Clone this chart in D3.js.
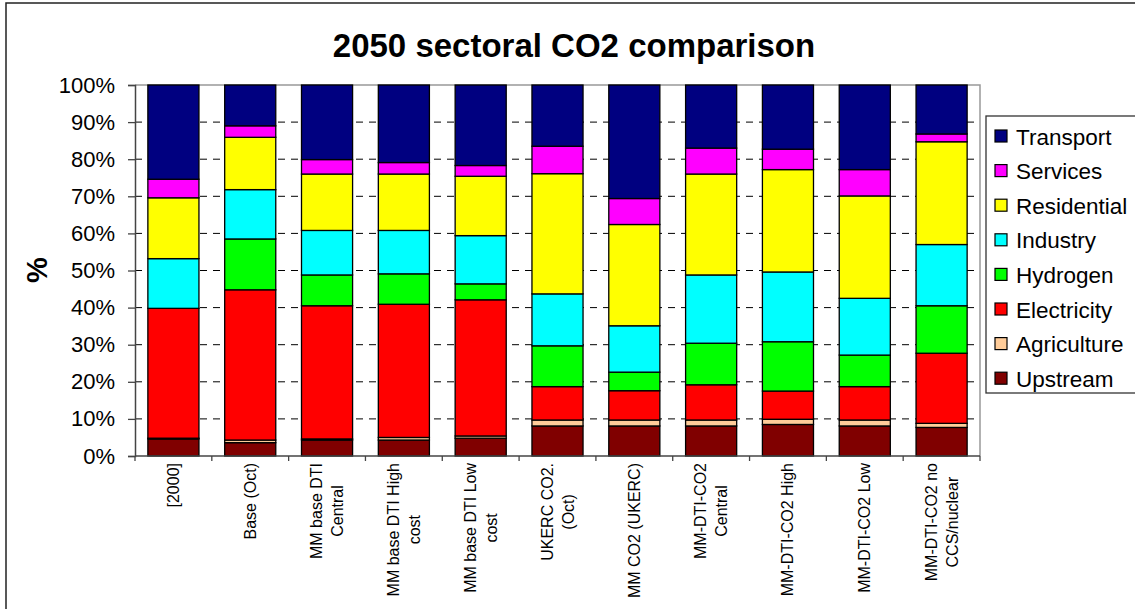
<!DOCTYPE html>
<html>
<head>
<meta charset="utf-8">
<script src="https://cdn.jsdelivr.net/npm/d3@7"></script>
<style>
  body { margin: 0; background: #fff; }
  svg { display: block; font-family: Arial, "Liberation Sans", sans-serif; }
</style>
</head>
<body>
<div id="container"></div>
<script>
/* DATA */
const categories = ["[2000]", "Base (Oct)", "MM base DTI\nCentral", "MM base DTI High\ncost",
  "MM base DTI Low\ncost", "UKERC CO2.\n(Oct)", "MM CO2 (UKERC)", "MM-DTI-CO2\nCentral",
  "MM-DTI-CO2 High", "MM-DTI-CO2 Low", "MM-DTI-CO2 no\nCCS/nuclear"]

const upstream    = [4.6, 3.6, 4.3, 4.3, 4.8, 8.1, 8.1, 8.1, 8.5, 8.1, 7.7]
const agriculture = [0.2, 0.7, 0.3, 0.7, 0.6, 1.6, 1.6, 1.6, 1.4, 1.6, 1.1]
const electricity = [35.0, 40.5, 35.9, 35.9, 36.7, 9.0, 7.9, 9.5, 7.6, 9.0, 18.9]
const hydrogen    = [0.0, 13.7, 8.3, 8.2, 4.3, 11.0, 5.0, 11.2, 13.3, 8.5, 12.8]
const industry    = [13.4, 13.3, 12.0, 11.7, 13.0, 14.0, 12.5, 18.4, 18.8, 15.3, 16.5]
const residential = [16.4, 14.1, 15.2, 15.2, 16.0, 32.4, 27.3, 27.2, 27.6, 27.6, 27.7]
const services    = [5.0, 3.1, 3.9, 3.1, 2.9, 7.4, 7.0, 7.0, 5.5, 7.1, 2.1]
const transport   = [25.4, 11.0, 20.1, 20.9, 21.7, 16.5, 30.6, 17.0, 17.3, 22.8, 13.2]

const seriesNames = ["Upstream", "Agriculture", "Electricity", "Hydrogen", "Industry", "Residential", "Services", "Transport"]
const seriesValues = [upstream, agriculture, electricity, hydrogen, industry, residential, services, transport]
const seriesColors = ["#800000", "#FFCC99", "#FF0000", "#00FF00", "#00FFFF", "#FFFF00", "#FF00FF", "#000080"]
const yTicks = [0, 10, 20, 30, 40, 50, 60, 70, 80, 90, 100]

/* LAYOUT */
const W = 1135, H = 609
const plot = {left: 135, right: 980, top: 85, bottom: 456}

const table = categories.map((c, i) => {
  const row = {category: c}
  seriesNames.forEach((s, j) => row[s] = seriesValues[j][i])
  return row
})
const stacked = d3.stack().keys(seriesNames)(table)

const svg = d3.select("#container").append("svg")
  .attr("width", W).attr("height", H)

// chart border
svg.append("rect")
  .attr("x", 6).attr("y", 3).attr("width", W + 20).attr("height", H + 20)
  .attr("fill", "#fff").attr("stroke", "#222").attr("stroke-width", 1.5)

/* SCALES */
const x = d3.scaleBand()
  .domain(categories)
  .range([plot.left, plot.right])
  .paddingInner(0.335)
  .paddingOuter(0.1675)

const y = d3.scaleLinear()
  .domain([0, 100])
  .range([plot.bottom, plot.top])

// plot area frame (top / right gray)
svg.append("path")
  .attr("d", `M${plot.left},${plot.top}H${plot.right}V${plot.bottom}`)
  .attr("fill", "none").attr("stroke", "#999").attr("stroke-width", 1.5)

// gridlines
svg.append("g").selectAll("line")
  .data(yTicks.filter(d => d > 0 && d < 100))
  .join("line")
  .attr("x1", plot.left).attr("x2", plot.right)
  .attr("y1", d => y(d)).attr("y2", d => y(d))
  .attr("stroke", "#000").attr("stroke-width", 1)
  .attr("stroke-dasharray", "7,6")

// bars
svg.append("g").selectAll("g")
  .data(stacked)
  .join("g")
  .attr("fill", (d, i) => seriesColors[i])
  .selectAll("rect")
  .data(d => d)
  .join("rect")
  .attr("x", d => x(d.data.category))
  .attr("y", d => y(d[1]))
  .attr("width", x.bandwidth())
  .attr("height", d => Math.max(0, y(d[0]) - y(d[1])))
  .attr("stroke", "#000").attr("stroke-width", 1.3)

/* AXES */
const yAxisGroup = svg.append("g")
  .attr("transform", `translate(${plot.left},0)`)
  .call(d3.axisLeft(y).tickValues(yTicks).tickSize(7).tickPadding(13).tickFormat(d => d + "%"))
yAxisGroup.select(".domain").attr("stroke", "#444").attr("stroke-width", 1.5)
yAxisGroup.selectAll(".tick line").attr("stroke", "#444").attr("stroke-width", 1.3)
yAxisGroup.selectAll("text").attr("font-size", 22).attr("fill", "#000")
  .attr("font-family", "Arial, 'Liberation Sans', sans-serif")

// x axis line and ticks at category boundaries
const step = x.step()
const boundaries = d3.range(categories.length + 1).map(i => plot.left + i * step)
svg.append("line")
  .attr("x1", plot.left).attr("x2", plot.right)
  .attr("y1", plot.bottom).attr("y2", plot.bottom)
  .attr("stroke", "#444").attr("stroke-width", 1.5)
svg.append("g").selectAll("line")
  .data(boundaries)
  .join("line")
  .attr("x1", d => d).attr("x2", d => d)
  .attr("y1", plot.bottom).attr("y2", plot.bottom + 5)
  .attr("stroke", "#444").attr("stroke-width", 1.3)

// rotated category labels
const labelTop = 463
categories.forEach(c => {
  const lines = c.split("\n")
  const cx = x(c) + x.bandwidth() / 2
  const g = svg.append("g")
    .attr("transform", `translate(${cx},${labelTop}) rotate(-90)`)
  const texts = g.selectAll("text")
    .data(lines)
    .join("text")
    .attr("font-size", 16)
    .attr("text-anchor", "middle")
    .attr("dominant-baseline", "central")
    .attr("y", (d, i) => (i - (lines.length - 1) / 2) * 21)
    .text(d => d)
  const maxW = d3.max(texts.nodes(), n => n.getComputedTextLength())
  texts.attr("x", -maxW / 2)
})

/* TITLES */
svg.append("text")
  .attr("x", 574).attr("y", 45)
  .attr("text-anchor", "middle").attr("dominant-baseline", "central")
  .attr("font-size", 33).attr("font-weight", "bold")
  .text("2050 sectoral CO2 comparison")

svg.append("text")
  .attr("transform", "translate(37,270) rotate(-90)")
  .attr("text-anchor", "middle").attr("dominant-baseline", "central")
  .attr("font-size", 29).attr("font-weight", "bold")
  .text("%")

/* LEGEND */
const legend = svg.append("g")
legend.append("rect")
  .attr("x", 986).attr("y", 116).attr("width", 170).attr("height", 277)
  .attr("fill", "#fff").attr("stroke", "#333").attr("stroke-width", 1.3)

const legendOrder = seriesNames.map((s, i) => i).reverse()
const items = legend.selectAll("g.item")
  .data(legendOrder)
  .join("g")
  .attr("class", "item")
  .attr("transform", (d, k) => `translate(995,${136 + k * 34.6})`)
items.append("rect")
  .attr("x", 0).attr("y", -6).attr("width", 12).attr("height", 12)
  .attr("fill", d => seriesColors[d]).attr("stroke", "#000").attr("stroke-width", 1.2)
items.append("text")
  .attr("x", 21).attr("y", 1)
  .attr("dominant-baseline", "central")
  .attr("font-size", 22.5)
  .text(d => seriesNames[d])
</script>
</body>
</html>
